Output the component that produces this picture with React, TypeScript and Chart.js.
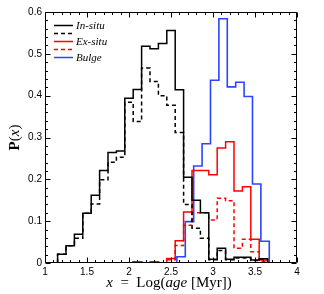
import React, { useEffect, useRef } from 'react';
import { Chart, registerables } from 'chart.js';

Chart.register(...registerables);

// ---- data (bin centres, bin width 0.1 in Log(age [Myr])) ----
const BIN_WIDTH = 0.1;

const inSituCenters = [1.2, 1.3, 1.4, 1.5, 1.6, 1.7, 1.8, 1.9, 2.0, 2.1, 2.2, 2.3, 2.4, 2.5, 2.6, 2.7, 2.8, 2.9, 3.0, 3.1, 3.2, 3.3, 3.4, 3.5, 3.6];
const inSituSolid = [0.021, 0.041, 0.069, 0.119, 0.162, 0.221, 0.264, 0.268, 0.394, 0.415, 0.518, 0.512, 0.525, 0.556, 0.414, 0.205, 0.15, 0.12, 0.009, 0.035, 0.009, 0.014, 0.014, 0.007, 0.01];
const inSituDashed = [0.021, 0.041, 0.059, 0.119, 0.141, 0.199, 0.241, 0.253, 0.384, 0.338, 0.466, 0.434, 0.4, 0.377, 0.312, 0.14, 0.083, 0.059, 0.008, 0.03, 0.008, 0.012, 0.012, 0.006, 0.009];

const exSituCenters = [2.1, 2.2, 2.3, 2.4, 2.5, 2.6, 2.7, 2.8, 2.9, 3.0, 3.1, 3.2, 3.3, 3.4, 3.5, 3.6];
const exSituSolid = [0.003, 0, 0.003, 0, 0.011, 0.053, 0.122, 0.221, 0.221, 0.211, 0.275, 0.29, 0.172, 0.182, 0.057, 0.007];
const exSituDashed = [0.003, 0, 0.003, 0, 0.008, 0.042, 0.09, 0.12, 0.12, 0.103, 0.155, 0.149, 0.035, 0.057, 0.027, 0.004];

const bulgeCenters = [2.62, 2.72, 2.82, 2.92, 3.02, 3.12, 3.22, 3.32, 3.42, 3.52, 3.62];
const bulgeValues = [0.015, 0.099, 0.232, 0.285, 0.437, 0.584, 0.421, 0.432, 0.398, 0.189, 0.052];

const xTickValues = [1, 1.5, 2, 2.5, 3, 3.5, 4];
const yTickValues = [0, 0.1, 0.2, 0.3, 0.4, 0.5, 0.6];

const legendRows = [
  { label: 'In-situ', color: '#000000', dash: [] as number[] },
  { label: '', color: '#000000', dash: [4, 3] },
  { label: 'Ex-situ', color: '#ff0000', dash: [] as number[] },
  { label: '', color: '#ff0000', dash: [4, 3] },
  { label: 'Bulge', color: '#2b46ff', dash: [] as number[] },
];

function histPoints(centers: number[], values: number[]) {
  const pts: { x: number; y: number }[] = [];
  pts.push({ x: centers[0] - BIN_WIDTH / 2, y: 0 });
  centers.forEach((c, i) => pts.push({ x: c - BIN_WIDTH / 2, y: values[i] }));
  pts.push({ x: centers[centers.length - 1] + BIN_WIDTH / 2, y: 0 });
  return pts;
}

const SERIF = '"Liberation Serif", "DejaVu Serif", serif';
const SANS = '"Liberation Sans", Arial, sans-serif';

function drawParts(ctx: CanvasRenderingContext2D, parts: { t: string; f: string }[], cx: number, cy: number) {
  let total = 0;
  parts.forEach((p) => {
    ctx.font = p.f;
    total += ctx.measureText(p.t).width;
  });
  let x = cx - total / 2;
  parts.forEach((p) => {
    ctx.font = p.f;
    ctx.fillText(p.t, x, cy);
    x += ctx.measureText(p.t).width;
  });
}

const framePlugin = {
  id: 'frameTicks',
  afterDatasetsDraw(chart: any) {
    const { ctx, chartArea: a, scales } = chart;
    const xs = scales.x;
    const ys = scales.y;
    const L = Math.round(a.left) + 0.5;
    const R = Math.round(a.right) - 0.5;
    const T = Math.round(a.top) + 0.5;
    const B = Math.round(a.bottom) - 0.5;
    ctx.save();
    ctx.strokeStyle = '#000';
    ctx.lineWidth = 1;
    ctx.setLineDash([]);
    ctx.beginPath();
    ctx.rect(L, T, R - L, B - T);
    ctx.stroke();
    ctx.beginPath();
    for (let i = 0; i <= 30; i++) {
      const v = 1 + i * 0.1;
      const px = Math.round(xs.getPixelForValue(v)) + 0.5;
      const len = i % 5 === 0 ? 5 : 2.5;
      ctx.moveTo(px, B);
      ctx.lineTo(px, B - len);
      ctx.moveTo(px, T);
      ctx.lineTo(px, T + len);
    }
    for (let i = 0; i <= 30; i++) {
      const v = i * 0.02;
      const py = Math.round(ys.getPixelForValue(v)) + 0.5;
      const len = i % 5 === 0 ? 5 : 2.5;
      ctx.moveTo(L, py);
      ctx.lineTo(L + len, py);
      ctx.moveTo(R, py);
      ctx.lineTo(R - len, py);
    }
    ctx.stroke();
    ctx.restore();
  },
  afterDraw(chart: any) {
    const { ctx, chartArea: a } = chart;
    ctx.save();
    ctx.fillStyle = '#000';
    ctx.textBaseline = 'alphabetic';
    // x-axis title
    drawParts(
      ctx,
      [
        { t: 'x', f: `italic 15px ${SERIF}` },
        { t: '  =  ', f: `15px ${SERIF}` },
        { t: 'Log(', f: `15px ${SERIF}` },
        { t: 'age', f: `italic 15px ${SERIF}` },
        { t: ' [Myr])', f: `15px ${SERIF}` },
      ],
      (a.left + a.right) / 2 - 2,
      287
    );
    // y-axis title
    ctx.save();
    ctx.translate(19, (a.top + a.bottom) / 2);
    ctx.rotate(-Math.PI / 2);
    drawParts(
      ctx,
      [
        { t: 'P', f: `bold 15px ${SERIF}` },
        { t: '(', f: `15px ${SERIF}` },
        { t: 'x', f: `italic 15px ${SERIF}` },
        { t: ')', f: `15px ${SERIF}` },
      ],
      0,
      0
    );
    ctx.restore();
    // legend
    legendRows.forEach((row, i) => {
      const y = Math.round(a.top + 12.5 + i * 8) + 0.5;
      ctx.strokeStyle = row.color;
      ctx.lineWidth = 1.5;
      ctx.setLineDash(row.dash);
      ctx.beginPath();
      ctx.moveTo(a.left + 9, y);
      ctx.lineTo(a.left + 28, y);
      ctx.stroke();
      if (row.label) {
        ctx.setLineDash([]);
        ctx.font = `italic 11px ${SERIF}`;
        ctx.textBaseline = 'middle';
        ctx.fillText(row.label, a.left + 31, y + 0.5);
      }
    });
    ctx.restore();
  },
};

export default function App() {
  const ref = useRef<HTMLCanvasElement | null>(null);

  useEffect(() => {
    if (!ref.current) return;
    const mk = (centers: number[], vals: number[], color: string, dash: number[], width: number) => ({
      data: histPoints(centers, vals),
      borderColor: color,
      borderWidth: width,
      borderDash: dash,
      stepped: 'before' as const,
      pointRadius: 0,
      fill: false,
      tension: 0,
      clip: 0,
    });
    const chart = new Chart(ref.current, {
      type: 'line',
      data: {
        datasets: [
          mk(inSituCenters, inSituSolid, '#000000', [], 1.5),
          mk(inSituCenters, inSituDashed, '#000000', [4, 3], 1.5),
          mk(exSituCenters, exSituSolid, '#ff0000', [], 1.5),
          mk(exSituCenters, exSituDashed, '#ff0000', [4, 3], 1.5),
          mk(bulgeCenters, bulgeValues, '#2b46ff', [], 1.6),
        ] as any,
      },
      options: {
        animation: false,
        responsive: false,
        devicePixelRatio: 1,
        parsing: false as any,
        layout: { padding: { left: 0, right: 27, top: 12, bottom: 0 } },
        plugins: {
          legend: { display: false },
          tooltip: { enabled: false },
          title: { display: false },
        },
        scales: {
          x: {
            type: 'linear',
            min: 1,
            max: 4,
            grid: { display: false, drawTicks: false },
            border: { display: false },
            afterBuildTicks: (s: any) => {
              s.ticks = xTickValues.map((v) => ({ value: v }));
            },
            afterFit: (s: any) => {
              s.height = 31;
            },
            ticks: {
              autoSkip: false,
              maxRotation: 0,
              padding: 3,
              color: '#000',
              font: { family: SANS, size: 10 },
              callback: (v: any) => String(Number(v)),
            },
          },
          y: {
            type: 'linear',
            min: 0,
            max: 0.6,
            grid: { display: false, drawTicks: false },
            border: { display: false },
            afterBuildTicks: (s: any) => {
              s.ticks = yTickValues.map((v) => ({ value: v }));
            },
            afterFit: (s: any) => {
              s.width = 45;
            },
            ticks: {
              autoSkip: false,
              padding: 3,
              color: '#000',
              font: { family: SANS, size: 10 },
              callback: (v: any) => (Number(v) === 0 ? '0' : Number(v).toFixed(1)),
            },
          },
        },
      },
      plugins: [framePlugin as any],
    });
    return () => chart.destroy();
  }, []);

  return (
    <div style={{ position: 'absolute', left: 0, top: 0, width: 324, height: 294, background: '#fff' }}>
      <canvas ref={ref} width={324} height={294} style={{ width: 324, height: 294, display: 'block' }} />
    </div>
  );
}
